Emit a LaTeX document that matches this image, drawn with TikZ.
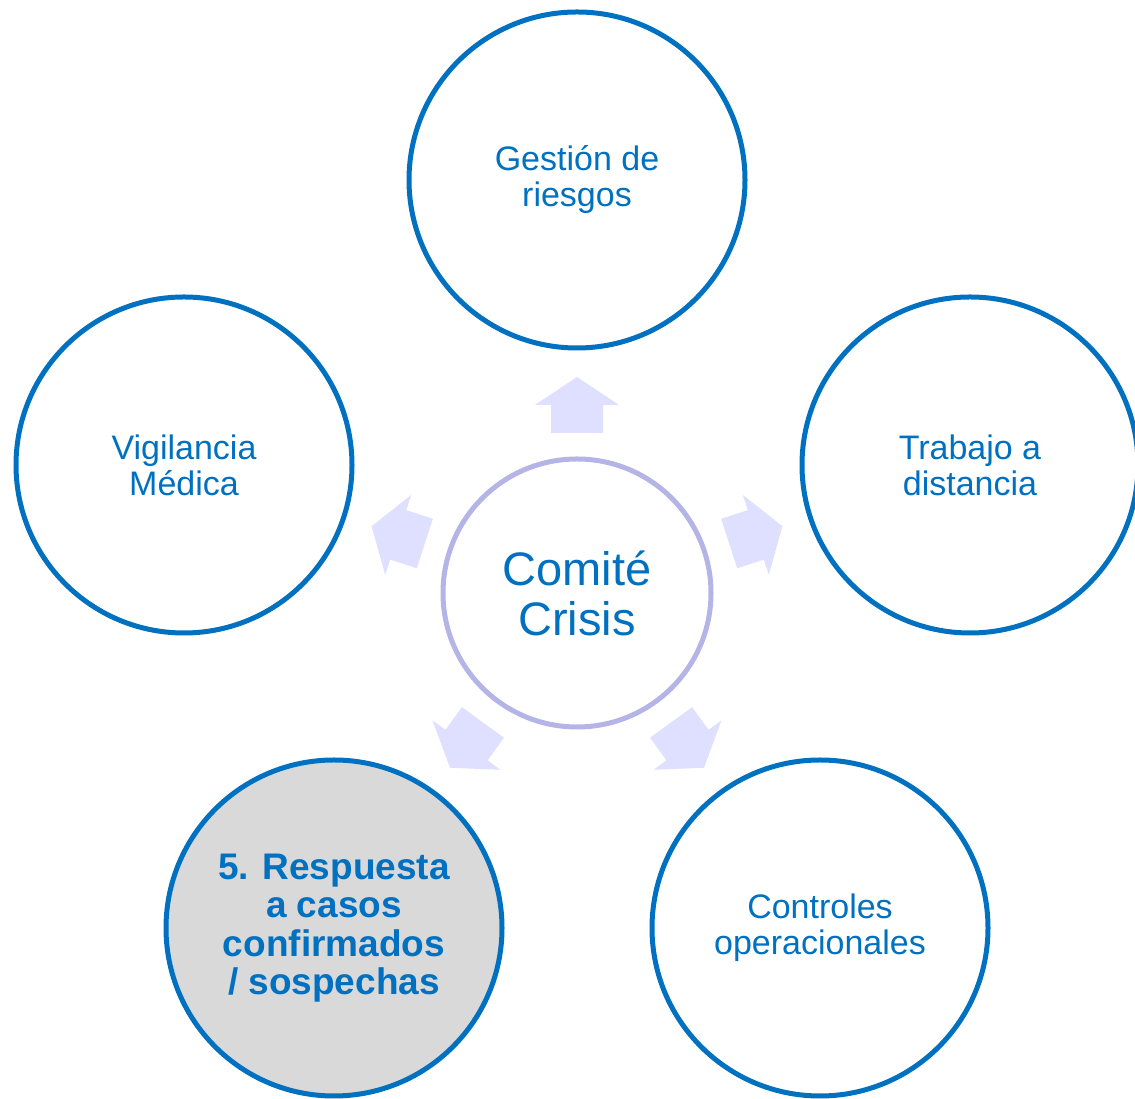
\documentclass[tikz,border=0pt]{standalone}
\usepackage{fontspec}
\setsansfont{Liberation Sans}
\usepackage{tkz-graph}
\usetikzlibrary{shapes}
\definecolor{topicblue}{HTML}{0070C0}
\definecolor{hubline}{HTML}{B4B4E6}
\definecolor{arrowfill}{HTML}{DFDFFF}
\definecolor{activegray}{HTML}{D9D9D9}

\begin{document}
\begin{tikzpicture}[x = 1pt, y = 1pt, font=\sffamily]
	\tikzstyle{VertexStyle} = []
	\tikzstyle{EdgeStyle} = []
	\tikzstyle{topicStyle}=[shape = circle, minimum size = 336pt, inner sep = 0pt, draw = topicblue, line width = 5pt, text = topicblue, align = center, font = \sffamily\fontsize{34}{36}\selectfont]
	\tikzstyle{activeStyle}=[topicStyle, fill = activegray, font = \sffamily\bfseries\fontsize{37}{38.5}\selectfont]
	\tikzstyle{hubStyle}=[shape = circle, minimum size = 268pt, inner sep = 0pt, draw = hubline, line width = 5pt, text = topicblue, align = center, font = \sffamily\fontsize{47}{50}\selectfont]
	\tikzstyle{pushStyle}=[fill = arrowfill]
	\useasboundingbox (0, 0) rectangle (1135, 1099);
	\Vertex[style = hubStyle, x = 577, y = 506, L = {Comité\\Crisis}]{hub}
	\Vertex[style = topicStyle, x = 577, y = 919, L = {Gestión de\\riesgos}]{riesgos}
	\Vertex[style = topicStyle, x = 970, y = 634, L = {Trabajo a\\distancia}]{distancia}
	\Vertex[style = topicStyle, x = 820, y = 171, L = {Controles\\operacionales}]{controles}
	\Vertex[style = activeStyle, x = 334, y = 171, L = {5. Respuesta\\a casos\\confirmados\\/ sospechas}]{respuesta}
	\Vertex[style = topicStyle, x = 184, y = 634, L = {Vigilancia\\Médica}]{vigilancia}
	\foreach \dir in {18, 90, 162, 234, 306}
		\fill[pushStyle, shift = {(hub)}, rotate = \dir] (160, -26) -- (188, -26) -- (188, -42) -- (216, 0) -- (188, 42) -- (188, 26) -- (160, 26) -- cycle;
\end{tikzpicture}
\end{document}
